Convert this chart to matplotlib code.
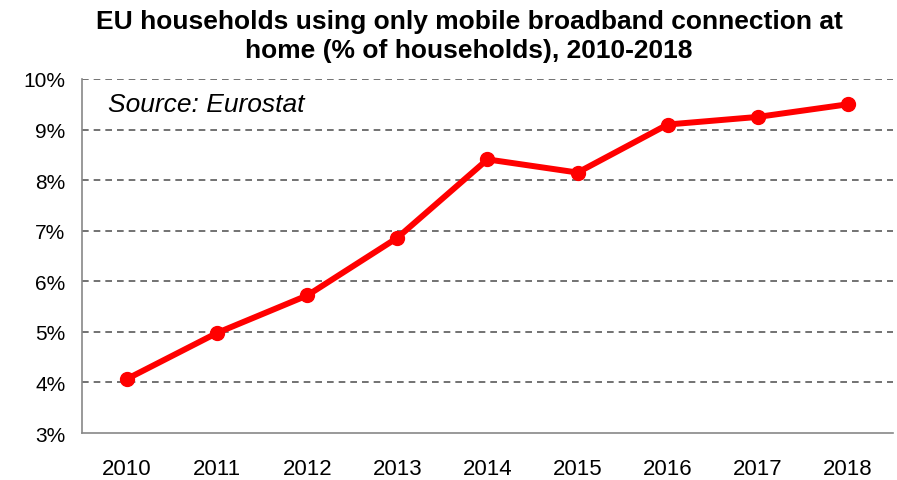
import matplotlib.pyplot as plt
import numpy as np

years = [2010, 2011, 2012, 2013, 2014, 2015, 2016, 2017, 2018]
share = [4.07, 4.98, 5.72, 6.86, 8.41, 8.15, 9.10, 9.25, 9.50]  # % of households
yticks = [3, 4, 5, 6, 7, 8, 9, 10]

plt.rcParams['font.family'] = ['Liberation Sans', 'DejaVu Sans']

fig = plt.figure(figsize=(8.97, 4.81), dpi=100)
ax = fig.add_axes([0.0914, 0.0977, 0.9041, 0.736])

x = np.arange(len(years))
ax.plot(x, share, color='#ff0000', lw=4.3, marker='o', ms=10, zorder=3)

ax.set_xlim(-0.5, len(years) - 0.5)
ax.set_ylim(3, 10)
ax.set_xticks(x)
ax.set_xticklabels([str(y) for y in years], fontsize=16)
ax.set_yticks(yticks)
ax.set_yticklabels([f'{t}%' for t in yticks], fontsize=15)
ax.tick_params(length=0, pad=12)
ax.tick_params(axis='x', pad=18)

for t in yticks[1:]:
    ax.axhline(t, color='#5a5a5a', lw=1.2, ls=(0, (4, 3)), zorder=1)

for s in ['top', 'right']:
    ax.spines[s].set_visible(False)
for s in ['left', 'bottom']:
    ax.spines[s].set_color('#888888')
    ax.spines[s].set_linewidth(1.2)

ax.text(0.032, 0.962, 'Source: Eurostat', transform=ax.transAxes, fontsize=19,
        style='italic', va='top', ha='left')

fig.text(0.523, 0.98, 'EU households using only mobile broadband connection at\nhome (% of households), 2010-2018',
         ha='center', va='top', fontsize=19, fontweight='bold', linespacing=1.3)

fig.savefig('out.png', dpi=100)
